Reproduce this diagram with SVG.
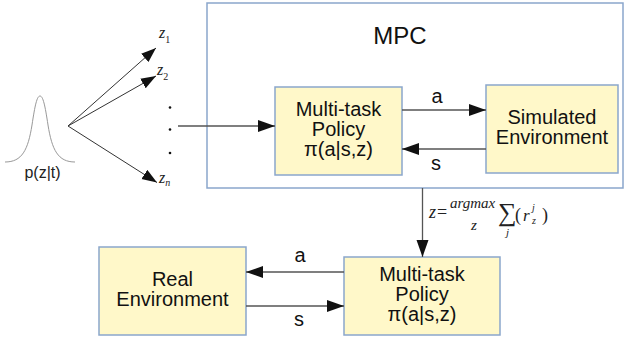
<svg xmlns="http://www.w3.org/2000/svg" width="624" height="343" viewBox="0 0 624 343">
<defs>
<style>
.box{fill:#fff8c9;stroke:#8aa6cc;stroke-width:1.5}
.frame{fill:#fff;stroke:#8aa6cc;stroke-width:1.5}
.t{font-family:"Liberation Sans",Arial,sans-serif;font-size:20px;fill:#111;text-anchor:middle}
.ln{stroke:#555;stroke-width:1.3;fill:none}
.fan{stroke:#333;stroke-width:1;fill:none}
.m{font-family:"Liberation Serif","DejaVu Serif",serif;font-style:italic;fill:#222}
.curve{stroke:#999;stroke-width:1;fill:none}
</style>
<marker id="ah" markerUnits="userSpaceOnUse" markerWidth="18" markerHeight="14" refX="17" refY="6" orient="auto">
<path d="M0,0 L17,6 L0,12 Z" fill="#111"/>
</marker>
<marker id="ahs" markerUnits="userSpaceOnUse" markerWidth="16" markerHeight="12" refX="15" refY="5.5" orient="auto">
<path d="M0,0 L15,5.5 L0,11 Z" fill="#111"/>
</marker>
</defs>

<g id="mpc">
<rect class="frame" x="207" y="3" width="416" height="185"/>
<text class="t" x="400" y="44" style="font-size:24px">MPC</text>
</g>

<g id="dist">
<path class="curve" d="M5,162 C22,162 28,150 32,125 C35,105 37,96 40,96 C43,96 45,105 48,125 C52,150 58,162 75,162"/>
<text x="42.5" y="178" style="font-family:'Liberation Sans',Arial,sans-serif;font-size:16px;fill:#222;text-anchor:middle">p(z|t)</text>
</g>

<g id="samples">
<text class="m" x="159" y="38" font-size="16">z<tspan font-size="10" dy="5" font-style="normal">1</tspan></text>
<text class="m" x="157" y="75" font-size="16">z<tspan font-size="10" dy="5" font-style="normal">2</tspan></text>
<text class="m" x="159" y="183" font-size="16">z<tspan font-size="10" dy="3">n</tspan></text>
<circle cx="170" cy="107.5" r="1.3" fill="#111"/>
<circle cx="170" cy="129.5" r="1.3" fill="#111"/>
<circle cx="170" cy="153" r="1.3" fill="#111"/>
</g>

<g id="policy-mpc">
<rect class="box" x="275" y="87" width="127" height="88"/>
<text class="t" x="338.5" y="116">Multi-task</text>
<text class="t" x="338.5" y="136">Policy</text>
<text class="t" x="338.5" y="156">π(a|s,z)</text>
</g>

<g id="sim-env">
<rect class="box" x="486" y="85" width="132" height="88"/>
<text class="t" x="552" y="124">Simulated</text>
<text class="t" x="552" y="143.5">Environment</text>
</g>

<g id="real-env">
<rect class="box" x="99" y="247" width="147" height="88"/>
<text class="t" x="172.5" y="286">Real</text>
<text class="t" x="172.5" y="305.5">Environment</text>
</g>

<g id="policy-real">
<rect class="box" x="344" y="257" width="156" height="78"/>
<text class="t" x="422" y="281">Multi-task</text>
<text class="t" x="422" y="301">Policy</text>
<text class="t" x="422" y="321">π(a|s,z)</text>
</g>

<g id="connectors">
<line class="fan" x1="68" y1="126" x2="156" y2="48" marker-end="url(#ahs)"/>
<line class="fan" x1="68" y1="126" x2="156" y2="76" marker-end="url(#ahs)"/>
<line class="fan" x1="68" y1="126" x2="157" y2="182.5" marker-end="url(#ahs)"/>
<line class="ln" x1="178" y1="126" x2="275" y2="126" marker-end="url(#ah)"/>
<line class="ln" x1="402" y1="110" x2="486" y2="110" marker-end="url(#ah)"/>
<text class="t" x="437" y="103">a</text>
<line class="ln" x1="486" y1="149" x2="402" y2="149" marker-end="url(#ah)"/>
<text class="t" x="436" y="170">s</text>
<line class="ln" x1="422.5" y1="188" x2="422.5" y2="257" marker-end="url(#ah)"/>
<line class="ln" x1="344" y1="272" x2="246" y2="272" marker-end="url(#ah)"/>
<text class="t" x="300" y="262">a</text>
<line class="ln" x1="246" y1="306" x2="344" y2="306" marker-end="url(#ah)"/>
<text class="t" x="299" y="326">s</text>
</g>

<g id="formula">
<text class="m" x="429" y="218" font-size="18">z</text>
<text x="437" y="218" font-size="18" style="font-family:'Liberation Serif',serif;fill:#222">=</text>
<text class="m" x="450" y="208" font-size="15">argmax</text>
<text class="m" x="471" y="230" font-size="15">z</text>
<text x="498" y="221" font-size="26" style="font-family:'Liberation Serif','DejaVu Serif',serif;fill:#222">∑</text>
<text class="m" x="506" y="236" font-size="11">j</text>
<text x="515" y="221" font-size="18" style="font-family:'Liberation Serif',serif;fill:#222">(</text>
<text class="m" x="523" y="221" font-size="17">r</text>
<text class="m" x="532" y="211" font-size="10">j</text>
<text class="m" x="532" y="224" font-size="10">z</text>
<text x="542" y="221" font-size="18" style="font-family:'Liberation Serif',serif;fill:#222">)</text>
</g>
</svg>
